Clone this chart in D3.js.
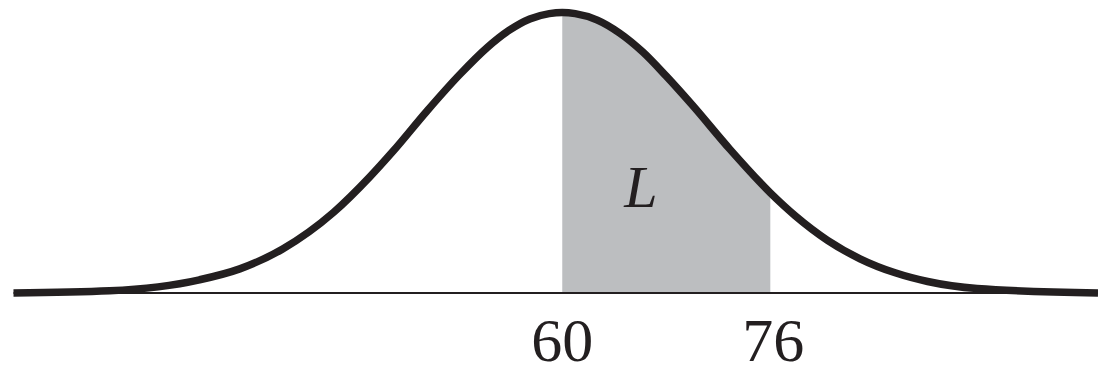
<!DOCTYPE html>
<html>
<head>
<meta charset="utf-8">
<script src="https://cdn.jsdelivr.net/npm/d3@7"></script>
<style>
  html, body { margin: 0; padding: 0; background: #fff; }
  svg { display: block; }
  .serif { font-family: "Liberation Serif", "Times New Roman", Times, "DejaVu Serif", serif; }
</style>
</head>
<body>
<svg id="chart" width="1098" height="366"></svg>
<script>
// Curve: score (x) and relative density height (0..1)
const curveScores  = [17.8, 25.2, 32.1, 35.2, 38.5, 42.4, 45.2, 47.0, 49.6, 52.1, 54.2, 55.9, 57.5, 59.0, 60.0, 61.0, 62.7, 64.4, 66.2, 68.0, 70.0, 72.9, 76.0, 77.9, 80.4, 82.9, 85.6, 88.1, 91.9, 101.2];
const curveHeights = [0.000, 0.008, 0.047, 0.086, 0.157, 0.287, 0.414, 0.506, 0.649, 0.778, 0.874, 0.936, 0.977, 0.996, 1.000, 0.996, 0.973, 0.927, 0.859, 0.773, 0.670, 0.512, 0.357, 0.276, 0.188, 0.122, 0.072, 0.041, 0.016, 0.000];
const shadeRange = [60, 76];
const tickLabels = [60, 76];
const regionLabel = "L";

const svg = d3.select("#chart");
const W = 1098, H = 366;

const x = d3.scaleLinear().domain([17.8, 101.2]).range([13.5, 1098]);
const y = d3.scaleLinear().domain([0, 1]).range([293, 12.5]);

const pts = curveScores.map((s, i) => ({ s, h: curveHeights[i] }));

const line = d3.line().x(d => x(d.s)).y(d => y(d.h)).curve(d3.curveMonotoneX);
const area = d3.area().x(d => x(d.s)).y0(y(0)).y1(d => y(d.h)).curve(d3.curveMonotoneX);

svg.append("clipPath").attr("id", "shadeClip")
  .append("rect")
  .attr("x", x(shadeRange[0]))
  .attr("y", 0)
  .attr("width", x(shadeRange[1]) - x(shadeRange[0]))
  .attr("height", H);

svg.append("path")
  .datum(pts)
  .attr("d", area)
  .attr("fill", "#bcbec0")
  .attr("clip-path", "url(#shadeClip)");

// baseline axis
svg.append("line")
  .attr("x1", x(17.8)).attr("x2", W)
  .attr("y1", y(0)).attr("y2", y(0))
  .attr("stroke", "#231f20").attr("stroke-width", 2);

svg.append("path")
  .datum(pts)
  .attr("d", line)
  .attr("fill", "none")
  .attr("stroke", "#231f20")
  .attr("stroke-width", 7.5);

svg.selectAll("text.tick")
  .data(tickLabels)
  .join("text")
  .attr("class", "tick serif")
  .attr("x", d => x(d) + (d === 76 ? 3 : 0))
  .attr("y", 361)
  .attr("text-anchor", "middle")
  .attr("font-size", 62)
  .attr("fill", "#231f20")
  .text(d => d);

svg.append("text")
  .attr("class", "serif")
  .attr("x", 641)
  .attr("y", 207)
  .attr("text-anchor", "middle")
  .attr("font-style", "italic")
  .attr("font-size", 60)
  .attr("fill", "#231f20")
  .text(regionLabel);
</script>
</body>
</html>
